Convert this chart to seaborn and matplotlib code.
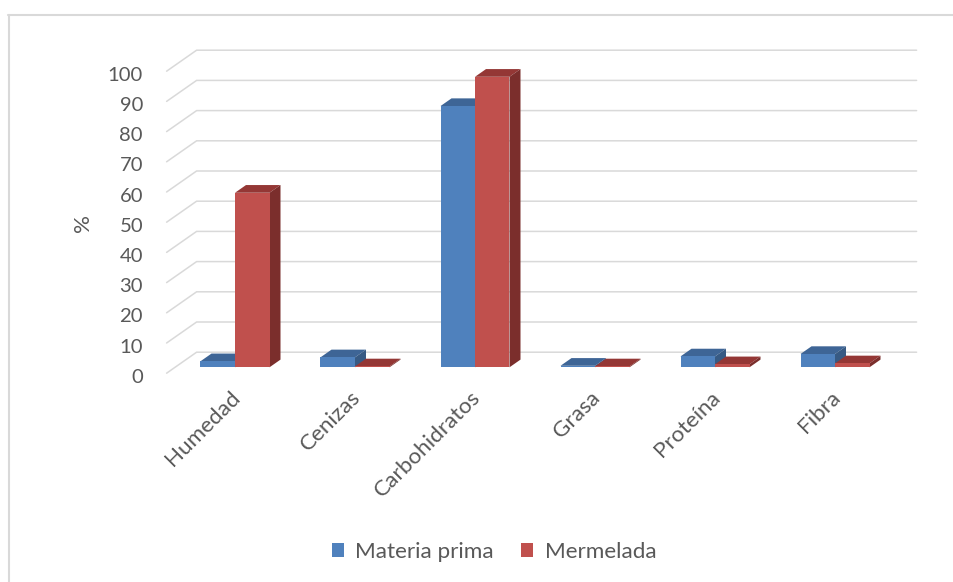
import numpy as np
import pandas as pd
import matplotlib
matplotlib.use("Agg")
import matplotlib.pyplot as plt
import matplotlib.transforms as mtransforms
from matplotlib.patches import Polygon
from matplotlib.lines import Line2D
import seaborn as sns

# ---- data -------------------------------------------------------------
categorias = ["Humedad", "Cenizas", "Carbohidratos", "Grasa", "Proteína", "Fibra"]
materia_prima = [2.0, 3.3, 86.5, 0.5, 3.6, 4.4]
mermelada = [57.8, 0.3, 96.2, 0.3, 1.0, 1.3]
series = ["Materia prima", "Mermelada"]
yticks = list(range(0, 101, 10))

df = pd.DataFrame({
    "categoria": categorias * 2,
    "serie": [series[0]] * len(categorias) + [series[1]] * len(categorias),
    "valor": materia_prima + mermelada,
})

# ---- style ------------------------------------------------------------
sns.set_theme(style="white")
plt.rcParams["font.family"] = ["Lato", "DejaVu Sans"]
TXT = "#595959"
GRID = "#d9d9d9"
FS_NUM = 14.6
FS_TXT = 16.2

front_col = {series[0]: "#4F81BD", series[1]: "#C0504D"}
top_col = {series[0]: "#3E6596", series[1]: "#943735"}
side_col = {series[0]: "#375A84", series[1]: "#7B2E2C"}

W, H = 954, 582
fig = plt.figure(figsize=(W / 100, H / 100), dpi=100)
# axes = plane of the bar front faces
ax = fig.add_axes([175 / W, (H - 367.3) / H, 720 / W, 302 / H])
ax.set_xlim(-0.5, 5.5)
ax.set_ylim(0, 100)
ax.patch.set_alpha(0)

sns.barplot(data=df, x="categoria", y="valor", hue="serie", order=categorias,
            hue_order=series, palette=front_col, width=0.575, saturation=1,
            linewidth=0, edgecolor="none", ax=ax, zorder=3)
ax.set_xlim(-0.5, 5.5)
ax.set_ylim(0, 100)

def shift(x, y, dxp, dyp):
    p = ax.transData.transform((x, y))
    return ax.transData.inverted().transform((p[0] + dxp, p[1] + dyp))

# depth vectors in pixels
FRONT = (-8.4, -5.9)    # from bar plane to front of floor
BACK = (21.6, 15.1)     # from bar plane to back wall
BAR = (11.0, 7.7)       # depth of each bar

# ---- pseudo 3-D gridlines --------------------------------------------
for v in yticks:
    p0 = shift(-0.5, v, *FRONT)
    p1 = shift(-0.5, v, *BACK)
    p2 = shift(5.5, v, *BACK)
    ax.add_line(Line2D([p0[0], p1[0], p2[0]], [p0[1], p1[1], p2[1]],
                       color=GRID, lw=1.1, zorder=0, clip_on=False,
                       solid_joinstyle="miter"))

# ---- top and side faces of the bars -----------------------------------
for s, container in zip(series, ax.containers):
    for rect in container:
        x0, y0 = rect.get_x(), rect.get_y()
        x1, y1 = x0 + rect.get_width(), y0 + rect.get_height()
        tl, tr = (x0, y1), (x1, y1)
        tl_b, tr_b = shift(x0, y1, *BAR), shift(x1, y1, *BAR)
        br, br_b = (x1, y0), shift(x1, y0, *BAR)
        ax.add_patch(Polygon([tl, tr, tr_b, tl_b], closed=True,
                             facecolor=top_col[s], edgecolor="none",
                             zorder=2.5, clip_on=False))
        ax.add_patch(Polygon([br, tr, tr_b, br_b], closed=True,
                             facecolor=side_col[s], edgecolor="none",
                             zorder=2.5, clip_on=False))
        rect.set_clip_on(False)

# ---- axes text ----------------------------------------------------------
sns.despine(ax=ax, left=True, bottom=True)
ax.set_xticks([])
ax.set_yticks([])
ax.set_xlabel("")
ax.set_ylabel("")

off_y = mtransforms.ScaledTranslation(-32 / 100, -10 / 100, fig.dpi_scale_trans)
for v in yticks:
    ax.text(-0.5, v, str(v), ha="right", va="center", fontsize=FS_NUM, color=TXT,
            transform=ax.transData + off_y, clip_on=False)

off_x = mtransforms.ScaledTranslation(2 / 100, -27 / 100, fig.dpi_scale_trans)
for i, c in enumerate(categorias):
    ax.text(i, 0, c, ha="right", va="center", rotation=45,
            rotation_mode="anchor", fontsize=FS_TXT, color=TXT,
            transform=ax.transData + off_x, clip_on=False)

fig.text(83 / W, 1 - 223 / H, "%", rotation=90, ha="center", va="center",
         fontsize=FS_TXT, color=TXT)

# ---- legend -------------------------------------------------------------
sns.move_legend(ax, "center", bbox_to_anchor=(494 / W, 1 - 552 / H),
                bbox_transform=fig.transFigure, ncol=2, frameon=False,
                title=None, fontsize=FS_TXT, handlelength=0.55, handleheight=0.55,
                handletextpad=0.5, columnspacing=1.2, labelcolor=TXT)

# ---- chart outline --------------------------------------------------------
fig.add_artist(Line2D([8 / W, 1], [1 - 15 / H, 1 - 15 / H], color=GRID, lw=1.5,
                      transform=fig.transFigure))
fig.add_artist(Line2D([9 / W, 9 / W], [0, 1 - 15 / H], color=GRID, lw=1.5,
                      transform=fig.transFigure))

fig.savefig("out.png", dpi=100, facecolor="white")
